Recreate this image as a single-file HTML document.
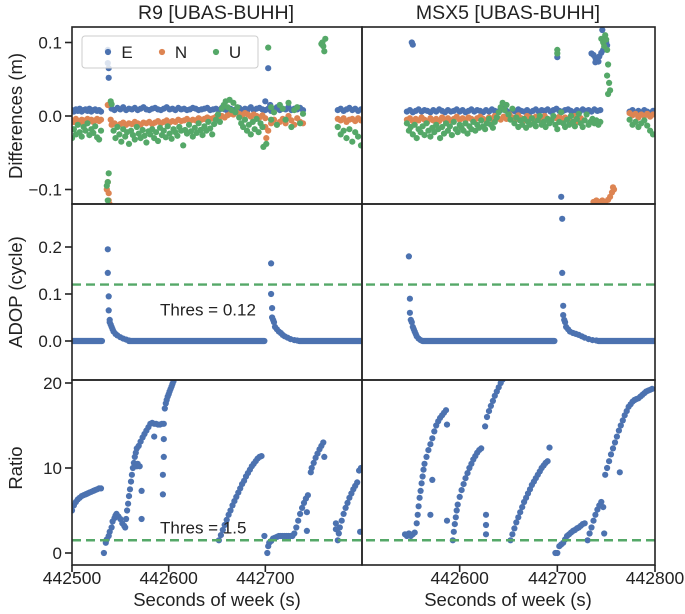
<!DOCTYPE html>
<html><head><meta charset="utf-8">
<style>
html,body{margin:0;padding:0;background:#fff;}
svg{display:block;font-family:"Liberation Sans",sans-serif;}
</style></head>
<body>
<svg id="fig" width="685" height="614" viewBox="0 0 685 614">
<defs>
<clipPath id="cL1"><rect x="72" y="27" width="290" height="177"/></clipPath>
<clipPath id="cR1"><rect x="362" y="27" width="293" height="177"/></clipPath>
<clipPath id="cL2"><rect x="72" y="204" width="290" height="176"/></clipPath>
<clipPath id="cR2"><rect x="362" y="204" width="293" height="176"/></clipPath>
<clipPath id="cL3"><rect x="72" y="380" width="290" height="185"/></clipPath>
<clipPath id="cR3"><rect x="362" y="380" width="293" height="185"/></clipPath>
</defs>
<text x="216" y="19" font-size="19.5" text-anchor="middle" fill="#222">R9 [UBAS-BUHH]</text>
<text x="508" y="19" font-size="19.5" text-anchor="middle" fill="#222">MSX5 [UBAS-BUHH]</text>
<text transform="translate(22,116) rotate(-90)" font-size="18.5" text-anchor="middle" fill="#222">Differences (m)</text>
<text transform="translate(22,292) rotate(-90)" font-size="18.5" text-anchor="middle" fill="#222">ADOP (cycle)</text>
<text transform="translate(22,468) rotate(-90)" font-size="18.5" text-anchor="middle" fill="#222">Ratio</text>
<text x="217" y="606" font-size="18.5" text-anchor="middle" fill="#222">Seconds of week (s)</text>
<text x="508" y="606" font-size="18.5" text-anchor="middle" fill="#222">Seconds of week (s)</text>
<g id="plots"></g>
</svg>
<script>
// ---------- data (time offsets relative to 442500 s) ----------
const BASE = 442500;
const xTicksLeft = [442500, 442600, 442700];
const xTicksRight = [442600, 442700, 442800];
const diffTicks = [0.1, 0.0, -0.1];
const diffTickLabels = ["0.1", "0.0", "\u22120.1"];
const adopTicks = [0.2, 0.1, 0.0];
const adopTickLabels = ["0.2", "0.1", "0.0"];
const ratioTicks = [20, 10, 0];
const ratioTickLabels = ["20", "10", "0"];
const adopThreshold = 0.12;
const ratioThreshold = 1.5;

const leftE_segs = [
 {t0:0,dt:2,v:[0.008,0.006,0.009,0.007,0.010,0.006,0.008,0.009,0.007,0.010,0.006,0.008,0.009,0.007,0.008,0.006]},
 {t0:41,dt:3,v:[0.010,0.008,0.011,0.009,0.012,0.008,0.010,0.009,0.011,0.008,0.010,0.012,0.009,0.008,0.010,0.011,0.009,0.008,0.010,0.012,0.009,0.010,0.008,0.011,0.009,0.010,0.008,0.009,0.011,0.010,0.008,0.009,0.010,0.011,0.008,0.009,0.010,0.008,0.011,0.009,0.007,0.010,0.008,0.009,0.011,0.008,0.010,0.009,0.012,0.008,0.010,0.011,0.009,0.008,0.010,0.007,0.009,0.011,0.008,0.010,0.009,0.012,0.008,0.010,0.009,0.011,0.008]},
 {t0:275,dt:3,v:[0.008,0.010,0.007,0.009,0.011,0.008,0.010,0.007,0.009]}];
const leftE_pts = [[38,0.052],[38,0.065],[37,0.09],[37,0.072],[203,0.065],[200,0.02],[205,0.015],[208,0.008],[212,0.012]];
const leftN_segs = [
 {t0:0,dt:2,v:[-0.006,-0.008,-0.004,-0.007,-0.009,-0.005,-0.006,-0.010,-0.004,-0.007,-0.005,-0.008,-0.006,-0.004,-0.007,-0.005]},
 {t0:41,dt:3,v:[-0.012,-0.010,-0.013,-0.011,-0.009,-0.012,-0.010,-0.011,-0.008,-0.010,-0.012,-0.009,-0.010,-0.008,-0.011,-0.009,-0.007,-0.010,-0.008,-0.006,-0.009,-0.007,-0.008,-0.005,-0.007,-0.006,-0.004,-0.007,-0.005,-0.006,-0.003,-0.005,-0.004,-0.002,-0.004,-0.003,-0.001,-0.003,0.000,-0.002,0.001,0.003,0.002,0.005,0.003,0.001,0.004,0.002,-0.001,0.002,0.000,-0.002,0.001,-0.003]},
 {t0:206,dt:3,v:[-0.010,-0.005,-0.012,-0.008,-0.004,-0.010,0.000,-0.006,-0.012,-0.003,-0.008,-0.010]},
 {t0:275,dt:3,v:[-0.004,-0.006,-0.003,-0.008,-0.005,-0.004,-0.007,-0.003,-0.006]}];
const leftN_pts = [[37,-0.09],[38,-0.105],[38,-0.115],[39,-0.12],[36,-0.1],[37,0.015],[40,-0.005],[200,-0.015],[201,-0.03],[203,-0.02]];
const leftU_segs = [
 {t0:0,dt:2,v:[-0.030,-0.018,-0.025,-0.012,-0.022,-0.028,-0.015,-0.020,-0.010,-0.026,-0.018,-0.023,-0.014,-0.029,-0.032,-0.020]},
 {t0:43,dt:2,v:[-0.020,-0.030,-0.015,-0.025,-0.035,-0.018,-0.028,-0.022,-0.038,-0.020,-0.026,-0.032,-0.015,-0.024,-0.030,-0.019,-0.027,-0.036,-0.021,-0.025,-0.018,-0.030,-0.022,-0.034,-0.016,-0.026,-0.020,-0.029,-0.014,-0.024,-0.031,-0.018,-0.022,-0.027,-0.015,-0.020,-0.040,-0.019,-0.024,-0.012,-0.021,-0.028,-0.016,-0.023,-0.010,-0.019,-0.026,-0.014,-0.020,-0.008,-0.017,-0.025,-0.011,-0.005,0.002,-0.008,0.010,0.015,0.020,0.012,0.022,0.008,0.018,0.005,0.012,-0.002,-0.010,-0.015,-0.005,-0.020,-0.012,-0.025,-0.008,-0.018,-0.004,-0.022,-0.010,-0.015]},
 {t0:209,dt:3,v:[0.005,-0.012,0.015,0.010,-0.005,0.018,-0.015,0.008,0.012,-0.010,0.003]},
 {t0:275,dt:3,v:[-0.015,-0.025,-0.020,-0.030,-0.018,-0.035,-0.022,-0.028,-0.040]}];
const leftU_pts = [[36,-0.095],[37,-0.09],[38,-0.078],[37,-0.115],[40,0.02],[41,0.016],[198,-0.042],[201,-0.038],[203,0.093],[206,0.012],[206,-0.005],[259,0.1],[260,0.095],[261,0.088],[262,0.105],[258,0.098]];

const rightE_segs = [
 {t0:46,dt:3,v:[0.006,0.008,0.005,0.007,0.009,0.006,0.008,0.007,0.005,0.008,0.006,0.009,0.007,0.005,0.008,0.006,0.007,0.009,0.006,0.008,0.005,0.007,0.009,0.006,0.008,0.007,0.005,0.008,0.006,0.009,0.007,0.006,0.008,0.010,0.007,0.005,0.008,0.006,0.009,0.007,0.006,0.008,0.005,0.007,0.009,0.006,0.008,0.007,0.009,0.006,0.008,0.010,0.007,0.006,0.008,0.009,0.007,0.005,0.008,0.006,0.009,0.007,0.008,0.006,0.009,0.007,0.008]},
 {t0:274,dt:3,v:[0.006,0.008,0.004,0.007,0.005,0.008,0.006,0.004,0.007]}];
const rightE_pts = [[51,0.1],[52,0.097],[200,0.08],[204,-0.11],[235,0.085],[237,0.083],[239,0.079],[241,0.077],[243,0.081],[245,0.086],[247,0.09],[246,0.117],[250,0.1],[251,0.096],[242,0.074],[239,0.073]];
const rightN_segs = [
 {t0:46,dt:3,v:[-0.005,-0.003,-0.007,-0.004,-0.006,-0.002,-0.005,-0.008,-0.003,-0.006,-0.004,-0.007,-0.002,-0.005,-0.003,-0.006,-0.004,-0.001,-0.005,-0.003,-0.006,-0.002,-0.004,-0.007,-0.003,-0.001,-0.004,-0.006,-0.002,-0.004,0.000,-0.003,-0.005,-0.001,-0.004,0.002,-0.002,-0.005,0.001,-0.003,-0.006,0.000,-0.002,-0.004,-0.001,-0.005,-0.002,0.000,-0.004,-0.006,-0.002,-0.003,-0.001,-0.004,-0.002]},
 {t0:274,dt:3,v:[0.004,0.001,0.003,-0.002,0.002,0.000,0.003,-0.001,0.002]}];
const rightN_pts = [[212,-0.005],[215,-0.01],[218,0.0],[221,-0.008],[224,-0.003],[237,-0.117],[240,-0.115],[243,-0.117],[246,-0.115],[249,-0.117],[252,-0.114],[254,-0.11],[256,-0.104],[258,-0.1],[257,-0.097]];
const rightU_segs = [
 {t0:46,dt:2,v:[-0.010,-0.020,-0.015,-0.025,-0.012,-0.030,-0.018,-0.022,-0.014,-0.026,-0.010,-0.020,-0.028,-0.016,-0.022,-0.012,-0.018,-0.030,-0.015,-0.024,-0.010,-0.020,-0.014,-0.026,-0.008,-0.018,-0.022,-0.012,-0.016,-0.020,-0.010,-0.024,-0.014,-0.018,-0.008,-0.020,-0.012,-0.016,-0.006,-0.014,-0.018,-0.010,-0.004,-0.012,-0.016,-0.008,-0.002,0.005,0.012,0.018,0.008,0.015,0.002,-0.005,0.010,-0.010,-0.002,-0.015,-0.006,-0.012,-0.004,-0.016,-0.008,-0.012,-0.003,-0.010,-0.014,-0.006,0.000,-0.012,-0.008,-0.015,-0.004,-0.010,-0.006,0.000,-0.012,-0.018,-0.008,0.005,-0.010,-0.015,-0.005,-0.012,0.000,-0.008,-0.014,-0.004,0.003,-0.010,-0.015,-0.006,0.002,-0.012,-0.008,-0.004,-0.010,-0.006,-0.012,-0.008]},
 {t0:274,dt:3,v:[-0.005,-0.012,-0.008,-0.015,-0.010,-0.006,-0.013,-0.020,-0.025]}];
const rightU_pts = [[200,0.09],[200,0.085],[245,0.105],[247,0.1],[249,0.11],[248,0.095],[250,0.104],[251,0.09],[252,0.07],[251,0.055],[253,0.045],[254,0.035],[252,0.03]];

const adopLeft_runs = [[0,31,0],[59,199,0],[235,300,0]];
const adopLeft_pts = [[37,0.195],[37,0.145],[38,0.095],[38,0.065],[39,0.045],[39,0.04],[40,0.035],[41,0.03],[42,0.025],[43,0.02],[45,0.015],[47,0.012],[50,0.008],[53,0.005],[56,0.003],[59,0.001],
 [206,0.165],[206,0.10],[207,0.07],[207,0.05],[208,0.045],[209,0.04],[210,0.03],[212,0.025],[214,0.02],[216,0.017],[218,0.013],[220,0.01],[223,0.007],[226,0.004],[230,0.002],[233,0.001]];
const adopRight_runs = [[62,197,0],[242,300,0]];
const adopRight_pts = [[48,0.18],[49,0.09],[49,0.06],[50,0.045],[51,0.04],[52,0.03],[53,0.025],[54,0.02],[55,0.015],[56,0.01],[58,0.005],[60,0.002],
 [205,0.26],[205,0.145],[206,0.075],[206,0.055],[207,0.045],[208,0.04],[209,0.03],[211,0.025],[213,0.02],[216,0.017],[219,0.015],[222,0.013],[225,0.01],[228,0.007],[232,0.004],[236,0.002],[240,0.001]];

const ratioLeft = [[0,5.0],[2,5.6],[4,6.0],[6,6.3],[8,6.5],[10,6.7],[12,6.8],[14,6.9],[16,7.0],[18,7.1],[20,7.2],[22,7.3],[24,7.4],[26,7.5],[28,7.6],[30,7.6],
 [33,0.0],[35,1.2],[36,1.6],[38,2.0],[39,2.5],[41,3.0],[42,3.7],[44,4.1],[45,4.4],[46,4.6],[48,4.3],[50,4.0],[52,3.5],[54,3.2],[55,3.0],
 [56,4.0],[57,5.0],[58,5.8],[59,6.7],[60,7.5],[61,8.4],[62,9.2],[63,10.0],[64,10.6],[65,11.3],[66,11.8],[67,12.3],[69,12.6],[71,13.1],[73,13.6],[75,14.0],[77,14.4],[79,14.8],[81,15.2],[83,15.3],[85,15.2],[87,15.2],[89,15.1],[91,15.1],[93,15.2],[95,15.2],
 [70,10.2],[72,7.3],[72,4.0],[85,13.7],[95,13.4],[95,11.3],[94,9.2],[94,6.9],[67,10.2],[68,10.5],
 [96,17.0],[97,17.6],[98,18.0],[99,18.4],[100,18.7],[101,19.0],[102,19.3],[103,19.6],[104,19.9],[105,20.2],
 [152,1.5],[154,2.1],[156,2.7],[158,3.3],[160,3.9],[162,4.5],[164,5.0],[166,5.6],[168,6.1],[170,6.6],[172,7.1],[174,7.6],[176,8.1],[178,8.5],[180,9.0],[182,9.4],[184,9.8],[186,10.2],[188,10.5],[190,10.8],[192,11.1],[194,11.3],[196,11.4],
 [199,2.0],[202,0.0],[203,0.8],[204,1.2],[206,1.4],[208,1.7],[210,1.8],[212,1.9],[214,2.0],[216,2.0],[218,2.0],[220,2.0],[222,2.0],[224,2.0],[226,2.0],[228,2.0],[230,2.3],[232,3.0],[234,3.8],[236,4.6],[238,5.3],[240,5.9],[242,6.4],[244,6.8],[243,4.8],[243,2.6],
 [247,9.5],[248,10.0],[250,10.6],[252,11.2],[254,11.7],[256,12.2],[258,12.6],[260,13.0],[261,11.3],
 [273,3.5],[273,2.8],[275,1.5],[276,2.3],[277,3.0],[279,3.8],[281,4.6],[283,5.3],[285,5.9],[287,6.5],[289,7.0],[291,7.5],[293,7.9],[295,8.3],[297,9.7],[299,10.0],[298,2.5]];
const ratioRight = [[44,2.2],[46,2.0],[48,2.3],[50,2.0],[52,2.2],[54,2.4],[56,3.5],[57,4.5],[58,5.5],[59,6.5],[60,7.3],[61,8.2],[62,9.0],[63,9.8],[64,10.5],[66,11.3],[68,12.1],[70,12.8],[72,13.5],[74,14.3],[76,15.0],[78,15.5],[80,15.9],[82,16.2],[84,16.5],[86,16.8],[87,15.1],[72,8.6],[70,4.5],[87,3.8],
 [93,1.5],[94,2.5],[95,3.4],[96,4.2],[97,5.0],[98,5.7],[100,6.6],[102,7.4],[104,8.1],[106,8.8],[108,9.4],[110,10.0],[112,10.5],[114,11.0],[116,11.4],[118,11.8],[120,12.1],[122,12.3],[126,14.9],[127,4.5],[127,3.3],[127,2.2],[128,16.0],[130,16.7],[132,17.3],[134,17.9],[136,18.5],[138,19.0],[140,19.5],[142,20.0],[144,20.4],
 [152,1.5],[154,2.2],[156,2.9],[158,3.6],[160,4.2],[162,4.8],[164,5.4],[166,6.0],[168,6.5],[170,7.0],[172,7.5],[174,8.0],[176,8.4],[178,8.8],[180,9.2],[182,9.6],[184,10.0],[186,10.3],[188,10.6],[190,10.8],[192,12.4],
 [198,0.0],[200,0.0],[202,0.8],[204,1.0],[206,1.2],[208,1.6],[210,2.0],[212,2.2],[214,2.4],[216,2.6],[218,2.7],[220,2.9],[222,3.0],[224,3.2],[226,3.4],[228,3.5],
 [231,1.5],[233,2.3],[235,3.0],[237,3.8],[239,4.5],[241,5.1],[243,5.6],[245,6.0],[247,5.4],[248,2.3],
 [249,9.2],[251,10.0],[253,10.8],[255,11.6],[257,12.3],[259,13.0],[261,13.7],[263,14.4],[265,15.0],[267,15.6],[269,16.2],[271,16.7],[273,17.2],[275,17.5],[277,17.8],[279,18.0],[281,18.1],[283,18.2],[285,18.4],[287,18.6],[289,18.8],[291,19.0],[293,19.1],[295,19.2],[297,19.3],[264,9.5]];

// ---------- rendering ----------
const NS = "http://www.w3.org/2000/svg";
const root = document.getElementById("plots");
const C = {E:"#4c72b0", N:"#dd8452", U:"#55a868"};
const R = 3.1;
function mk(tag, attrs, parent){ const e=document.createElementNS(NS,tag); for(const k in attrs) e.setAttribute(k,attrs[k]); (parent||root).appendChild(e); return e; }
const xL = t => 72 + t*290/300;
const xR = t => 362 + t*293/300;
const xLabs = s => xL(s - BASE);
const xRabs = s => xR(s - BASE);
const yDiff = v => 116 - v*735;
const yAdop = v => 341 - v*470;
const yRatio = v => 553 - v*8.5;

function dot(g, x, y, col){
  const c = mk("circle",{cx:x.toFixed(1),cy:y.toFixed(1),r:R,fill:col},g);
  
  
}
function drawSegs(g, segs, pts, xf, yf, col){
  segs.forEach(s => s.v.forEach((v,i) => dot(g, xf(s.t0 + i*s.dt), yf(v), col)));
  pts.forEach(p => dot(g, xf(p[0]), yf(p[1]), col));
}
function panelGroup(name, clip){
  const g = mk("g",{"clip-path":"url(#"+clip+")"});
  
  
  return g;
}

let g = panelGroup("left-differences-series","cL1");
drawSegs(g, leftE_segs, leftE_pts, xL, yDiff, C.E);
drawSegs(g, leftN_segs, leftN_pts, xL, yDiff, C.N);
drawSegs(g, leftU_segs, leftU_pts, xL, yDiff, C.U);
g = panelGroup("right-differences-series","cR1");
drawSegs(g, rightE_segs, rightE_pts, xR, yDiff, C.E);
drawSegs(g, rightN_segs, rightN_pts, xR, yDiff, C.N);
drawSegs(g, rightU_segs, rightU_pts, xR, yDiff, C.U);

function drawAdop(name, clip, runs, pts, xf){
  const g = panelGroup(name, clip);
  runs.forEach(r => {
    const l = mk("line",{x1:xf(r[0]),x2:xf(r[1]),y1:yAdop(r[2]),y2:yAdop(r[2]),stroke:C.E,"stroke-width":2*R,"stroke-linecap":"round"},g);
    
    
  });
  pts.forEach(p => dot(g, xf(p[0]), yAdop(p[1]), C.E));
}
drawAdop("left-adop-series","cL2",adopLeft_runs,adopLeft_pts,xL);
drawAdop("right-adop-series","cR2",adopRight_runs,adopRight_pts,xR);

g = panelGroup("left-ratio-series","cL3");
ratioLeft.forEach(p => dot(g, xL(p[0]), yRatio(p[1]), C.E));
g = panelGroup("right-ratio-series","cR3");
ratioRight.forEach(p => dot(g, xR(p[0]), yRatio(p[1]), C.E));

let th = mk("line",{x1:72,x2:655,y1:yAdop(adopThreshold),y2:yAdop(adopThreshold),stroke:C.U,"stroke-width":2.4,"stroke-dasharray":"9,5"});


th = mk("line",{x1:72,x2:655,y1:yRatio(ratioThreshold),y2:yRatio(ratioThreshold),stroke:C.U,"stroke-width":2.4,"stroke-dasharray":"9,5"});


let tt = mk("text",{x:160,y:yAdop(adopThreshold)+31,"font-size":17,fill:"#222"});
tt.textContent = "Thres = " + adopThreshold;


tt = mk("text",{x:160,y:yRatio(ratioThreshold)-7,"font-size":17,fill:"#222"});
tt.textContent = "Thres = " + ratioThreshold;



const lg = mk("g",{});


mk("rect",{x:82,y:36,width:176,height:32,rx:3,fill:"#fff","fill-opacity":0.8,stroke:"#ccc","stroke-width":1},lg);
[["E",108,C.E],["N",162,C.N],["U",216,C.U]].forEach(e => {
  const it = mk("g",{},lg);
  
  
  mk("circle",{cx:e[1],cy:52,r:R,fill:e[2]},it);
  const t = mk("text",{x:e[1]+19,y:58,"font-size":17,fill:"#222","text-anchor":"middle"},it);
  t.textContent = e[0];
});

[[72,27,290,177],[362,27,293,177],[72,204,290,176],[362,204,293,176],[72,380,290,185],[362,380,293,185]].forEach(b => {
  const r = mk("rect",{x:b[0],y:b[1],width:b[2],height:b[3],fill:"none",stroke:"#222","stroke-width":1.6});
  
  
});

function yTicks(vals, labels, yf, name){
  vals.forEach((v,i) => {
    const y = yf(v);
    const l = mk("line",{x1:65,x2:72,y1:y,y2:y,stroke:"#222","stroke-width":1.6});
    
    
    const t = mk("text",{x:62,y:y+6,"font-size":17,fill:"#222","text-anchor":"end"});
    t.textContent = labels[i];
    
    
  });
}
yTicks(diffTicks, diffTickLabels, yDiff, "differences-y");
yTicks(adopTicks, adopTickLabels, yAdop, "adop-y");
yTicks(ratioTicks, ratioTickLabels, yRatio, "ratio-y");

function xTicks(vals, xf, name){
  vals.forEach(s => {
    const x = xf(s);
    const l = mk("line",{x1:x,x2:x,y1:565,y2:572,stroke:"#222","stroke-width":1.6});
    
    
    const t = mk("text",{x:x,y:584,"font-size":17.5,fill:"#222","text-anchor":"middle"});
    t.textContent = String(s);
    
    
  });
}
xTicks(xTicksLeft, xLabs, "left-x");
xTicks(xTicksRight, xRabs, "right-x");
</script>
</body></html>
